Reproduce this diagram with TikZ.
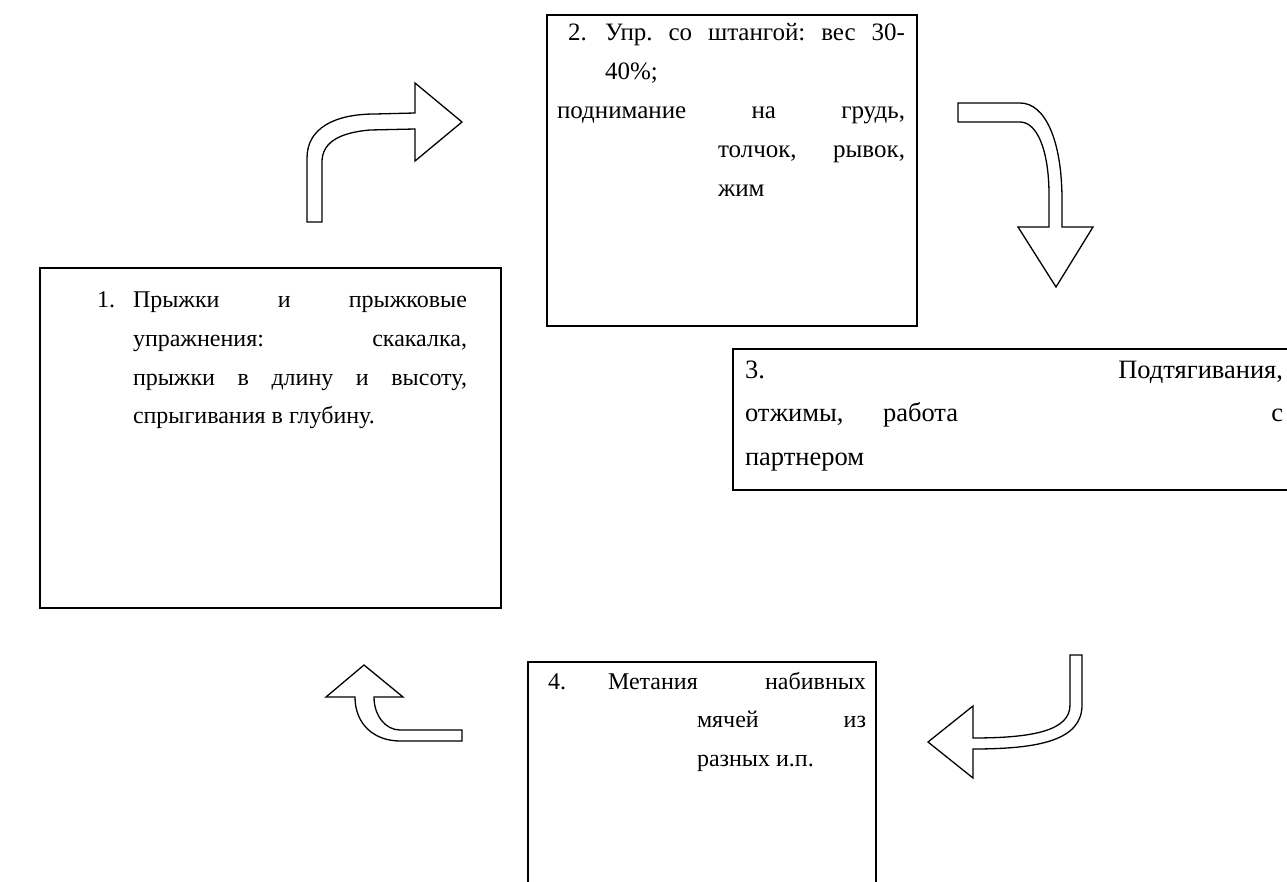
\documentclass[tikz,border=0pt]{standalone}
\usepackage{fontspec}
\setmainfont{Liberation Serif}
\begin{document}
\begin{tikzpicture}[x=1pt,y=-1pt,
  box/.style={draw=black,line width=1.6pt,fill=white,inner sep=0pt,outer sep=0pt,anchor=north west},
  txt/.style={inner sep=0pt,outer sep=0pt,anchor=base west,font=\fontsize{24}{38.5}\selectfont},
  midtxt/.style={inner sep=0pt,outer sep=0pt,anchor=base west,font=\fontsize{25}{39}\selectfont},
  bigtxt/.style={inner sep=0pt,outer sep=0pt,anchor=base west,font=\fontsize{26.5}{43.5}\selectfont},
  blockarrow/.style={draw=black,line width=1.3pt,fill=white,line join=miter}]
\useasboundingbox (0,0) rectangle (1287,882);
\clip (0,0) rectangle (1287,882);
\fill[white] (0,0) rectangle (1287,882);

% boxes
\node[box,minimum width=461pt,minimum height=340pt] (b1) at (40,268) {};
\node[box,minimum width=370pt,minimum height=311pt] (b2) at (547,15) {};
\node[box,minimum width=580pt,minimum height=141pt] (b3) at (733,349) {};
\node[box,minimum width=348pt,minimum height=240pt] (b4) at (528,662) {};

% box 1 text
\node[txt] (t1n) at (97,308) {1.};
\node[txt] (t1a) at (133,308) {\makebox[334pt][s]{Прыжки\hfill и\hfill прыжковые}};
\node[txt] (t1b) at (133,346.5) {\makebox[334pt][s]{упражнения:\hfill скакалка,}};
\node[txt] (t1c) at (133,385) {\makebox[334pt][s]{прыжки\hfill в\hfill длину\hfill и\hfill высоту,}};
\node[txt] (t1d) at (133,423.5) {спрыгивания в глубину.};

% box 2 text
\node[midtxt] (t2n) at (568,41) {2.};
\node[midtxt] (t2a) at (605,41) {\makebox[300pt][s]{Упр.\hfill со\hfill штангой:\hfill вес\hfill 30-}};
\node[midtxt] (t2b) at (605,80) {40\%;};
\node[midtxt] (t2c) at (557,119) {\makebox[348pt][s]{поднимание\hfill на\hfill грудь,}};
\node[midtxt] (t2d) at (718,158) {\makebox[187pt][s]{толчок,\hfill рывок,}};
\node[midtxt] (t2e) at (718,197) {жим};

% box 3 text
\node[bigtxt] (t3a) at (745,378) {\makebox[538pt][s]{3.\hfill Подтягивания,}};
\node[bigtxt] (t3b) at (745,421.5) {отжимы,};
\node[bigtxt] (t3c) at (883,421.5) {работа};
\node[bigtxt,anchor=base east] (t3d) at (1283,421.5) {с};
\node[bigtxt] (t3e) at (745,465) {партнером};

% box 4 text
\node[txt] (t4n) at (548,689) {4.};
\node[txt] (t4a) at (608,689) {\makebox[258pt][s]{Метания\hfill набивных}};
\node[txt] (t4b) at (697,727.5) {\makebox[169pt][s]{мячей\hfill из}};
\node[txt] (t4c) at (697,766) {разных и.п.};

% block arrow A (up then right)
\draw[blockarrow] (307,222) -- (307,158) .. controls (307,128) and (335,114) .. (375,114) -- (415,113)
  -- (415,83) -- (462,122) -- (415,161) -- (415,129) -- (370,130)
  .. controls (335,133) and (322,145) .. (322,162) -- (322,222) -- cycle;

% block arrow B (right then down)
\draw[blockarrow] (958,103) -- (1020,103) .. controls (1045,103) and (1062,140) .. (1062,200) -- (1062,227)
  -- (1093,227) -- (1056,287) -- (1018,227) -- (1049,227) -- (1049,195)
  .. controls (1049,150) and (1037,122) .. (1020,122) -- (958,122) -- cycle;

% block arrow C (left then up)
\draw[blockarrow] (462,741) -- (400,741) .. controls (375,741) and (355,725) .. (355,697)
  -- (326,697) -- (364,665) -- (403,697) -- (374,697)
  .. controls (374,715) and (385,730) .. (400,730) -- (462,730) -- cycle;

% block arrow D (down then left)
\draw[blockarrow] (1070,655) -- (1082,655) -- (1082,705) .. controls (1082,740) and (1040,749) .. (973,749)
  -- (973,778) -- (928,742) -- (973,706) -- (973,738)
  .. controls (1035,738) and (1070,730) .. (1070,705) -- cycle;
\end{tikzpicture}
\end{document}
